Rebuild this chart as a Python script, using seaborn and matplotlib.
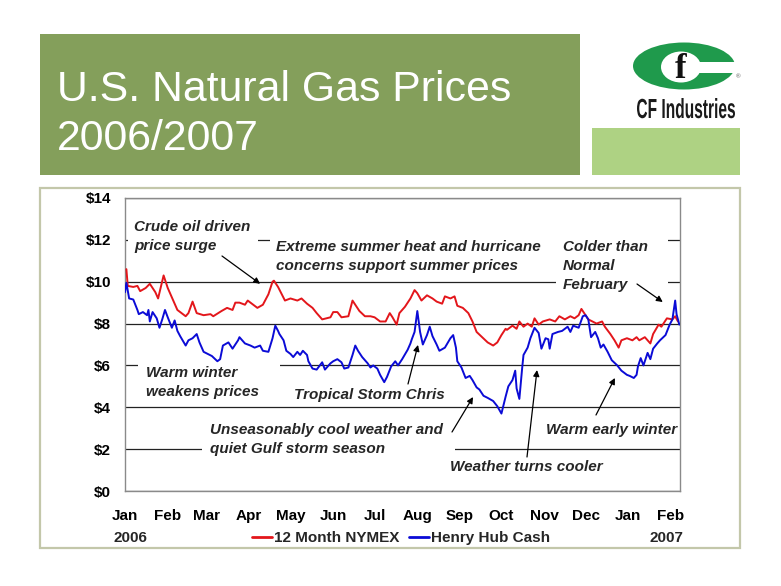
import numpy as np
import pandas as pd
import matplotlib
matplotlib.use("Agg")
import matplotlib.pyplot as plt
from matplotlib.patches import Rectangle, Ellipse, PathPatch
from matplotlib.textpath import TextPath
from matplotlib.font_manager import FontProperties
from matplotlib.transforms import Affine2D
from matplotlib.lines import Line2D
import seaborn as sns

# ---------------- data ----------------
START = "2006-01-01"
series_names = ["12 Month NYMEX", "Henry Hub Cash"]

nymex_day = [1, 2, 6, 9, 11, 15, 18, 22, 24, 28, 31, 35, 38, 44, 46, 49, 52, 57, 62, 64,
             70, 74, 78, 80, 83, 87, 89, 93, 96, 100, 104, 107, 108, 111, 116, 120, 125, 128, 132, 136,
             139, 143, 146, 149, 151, 154, 157, 162, 165, 167, 170, 174, 178, 181, 185, 189, 192, 194, 197, 199,
             203, 207, 210, 212, 215, 219, 223, 226, 230, 232, 236, 239, 241, 245, 249, 252, 255, 259, 263, 267,
             270, 273, 276, 277, 281, 284, 286, 289, 292, 295, 297, 300, 303, 308, 312, 315, 319, 323, 326, 329,
             331, 334, 336, 339, 342, 346, 348, 352, 355, 358, 360, 364, 368, 371, 373, 377, 381, 383, 387, 389,
             393, 397, 399, 401]
nymex_price = [10.6, 9.8, 9.75, 9.8, 9.55, 9.7, 9.9, 9.5, 9.2, 10.3, 9.7, 9.1, 8.65, 8.35, 8.5, 9.05, 8.5, 8.4, 8.45, 8.35,
               8.6, 8.75, 8.65, 9.0, 9.0, 8.9, 9.1, 8.9, 8.75, 8.9, 9.4, 10.0, 10.05, 9.75, 9.1, 9.2, 9.1, 9.2, 8.95, 8.75,
               8.5, 8.2, 8.25, 8.3, 8.55, 8.55, 8.3, 8.35, 9.1, 8.9, 8.6, 8.35, 8.35, 8.3, 8.1, 8.1, 8.5, 8.3, 7.95, 8.5,
               8.8, 9.2, 9.6, 9.45, 9.1, 9.35, 9.2, 9.05, 8.95, 9.3, 9.2, 9.3, 8.85, 8.75, 8.5, 8.1, 7.6, 7.35, 7.1, 6.95,
               7.1, 7.45, 7.75, 7.7, 7.9, 7.75, 8.1, 7.85, 8.0, 7.85, 8.25, 7.95, 8.1, 8.2, 8.1, 8.35, 8.2, 8.35, 8.25, 8.4,
               8.7, 8.4, 8.2, 8.1, 8.0, 8.1, 7.85, 7.5, 7.2, 6.85, 7.2, 7.3, 7.2, 7.35, 7.2, 7.35, 7.05, 7.5, 7.95, 7.85,
               8.25, 8.2, 8.35, 8.1]

henry_day = [0, 1, 3, 6, 9, 10, 13, 16, 17, 18, 20, 23, 25, 27, 29, 31, 34, 36, 38, 40,
             44, 46, 49, 52, 54, 57, 60, 63, 67, 69, 71, 75, 78, 82, 83, 87, 91, 94, 98, 100,
             104, 107, 109, 111, 112, 115, 117, 120, 122, 125, 127, 129, 132, 133, 136, 139, 143, 145, 149, 151,
             154, 157, 159, 162, 165, 167, 169, 172, 176, 178, 180, 183, 185, 188, 190, 193, 196, 198, 201, 205,
             207, 208, 210, 212, 214, 216, 219, 221, 223, 226, 228, 232, 236, 238, 240, 241, 244, 247, 250, 252,
             255, 257, 260, 263, 267, 270, 273, 276, 278, 281, 283, 284, 286, 288, 289, 292, 294, 297, 300, 302,
             305, 307, 308, 310, 314, 317, 321, 323, 325, 329, 332, 334, 336, 338, 341, 343, 345, 347, 350, 353,
             357, 360, 364, 366, 369, 371, 372, 374, 376, 379, 381, 383, 386, 388, 392, 395, 397, 399, 400, 402]
henry_price = [9.5, 9.95, 9.2, 9.15, 8.65, 8.45, 8.55, 8.4, 8.65, 8.1, 8.55, 8.25, 7.8, 8.2, 8.65, 8.3, 7.8, 8.15, 7.65, 7.4,
               6.95, 7.2, 7.3, 7.5, 7.1, 6.65, 6.55, 6.45, 6.2, 6.3, 6.95, 7.1, 6.8, 7.2, 7.35, 7.05, 6.95, 6.85, 6.95, 6.7,
               6.65, 7.3, 7.9, 7.65, 7.5, 7.2, 6.7, 6.55, 6.4, 6.65, 6.5, 6.7, 6.5, 6.2, 5.85, 5.8, 6.15, 5.8, 6.1, 6.2,
               6.3, 6.15, 5.85, 5.9, 6.5, 6.95, 6.7, 6.4, 6.1, 5.9, 6.0, 5.85, 5.55, 5.2, 5.45, 5.95, 6.2, 6.0, 6.3, 6.75,
               7.05, 7.25, 7.6, 8.6, 7.6, 7.0, 7.45, 7.85, 7.4, 7.0, 6.7, 6.85, 7.3, 7.45, 6.85, 6.2, 5.9, 5.4, 5.5, 5.3,
               4.95, 4.85, 4.55, 4.45, 4.3, 4.05, 3.7, 4.5, 5.0, 5.3, 5.75, 4.9, 4.4, 5.85, 6.5, 6.85, 7.3, 7.8, 7.55, 6.8,
               7.3, 7.25, 6.8, 7.5, 7.6, 7.65, 7.85, 7.6, 7.9, 7.8, 8.35, 8.4, 8.2, 7.35, 7.6, 7.3, 6.85, 7.0, 6.65, 6.25,
               6.0, 5.75, 5.55, 5.5, 5.4, 5.55, 5.95, 6.35, 6.0, 6.6, 6.3, 6.8, 7.05, 7.2, 7.45, 7.95, 8.2, 9.1, 8.45, 7.95]

month_labels = ["Jan", "Feb", "Mar", "Apr", "May", "Jun", "Jul", "Aug", "Sep", "Oct", "Nov", "Dec", "Jan", "Feb"]
year_labels = ["2006", "2007"]
y_ticks = [0, 2, 4, 6, 8, 10, 12, 14]
y_tick_labels = ["$0", "$2", "$4", "$6", "$8", "$10", "$12", "$14"]

annotations = [
    "Crude oil driven\nprice surge",
    "Extreme summer heat and hurricane\nconcerns support summer prices",
    "Colder than\nNormal\nFebruary",
    "Warm winter\nweakens prices",
    "Tropical Storm Chris",
    "Unseasonably cool weather and\nquiet Gulf storm season",
    "Warm early winter",
    "Weather turns cooler",
]

# ---------------- styling ----------------
RED = "#e3161b"
BLUE = "#0b0bd6"
TITLE_GREEN = "#849f5b"
LIGHT_GREEN = "#aed283"
LOGO_GREEN = "#1f9a4c"

sns.set_theme(style="white")
plt.rcParams["font.family"] = ["Liberation Sans", "DejaVu Sans"]

W, H = 781, 586
fig = plt.figure(figsize=(W / 100, H / 100), dpi=100)
fig.patch.set_facecolor("white")


def fx(px):
    return px / W


def fy(py):
    return 1 - py / H


# ---------------- header ----------------
fig.add_artist(Rectangle((fx(40), fy(175)), fx(540), 141 / H, transform=fig.transFigure,
                         fc=TITLE_GREEN, ec="none"))
fig.add_artist(Rectangle((fx(592), fy(175)), fx(148), 47 / H, transform=fig.transFigure,
                         fc=LIGHT_GREEN, ec="none"))
fig.text(fx(57), fy(101), "U.S. Natural Gas Prices", color="white", fontsize=30.8, va="baseline", ha="left")
fig.text(fx(57), fy(150), "2006/2007", color="white", fontsize=30.8, va="baseline", ha="left")

# logo
fig.add_artist(Ellipse((fx(684), fy(66)), fx(102), 47 / H, transform=fig.transFigure, fc=LOGO_GREEN, ec="none"))
fig.add_artist(Ellipse((fx(681), fy(67)), fx(40), 31 / H, transform=fig.transFigure, fc="white", ec="none"))
fig.add_artist(Rectangle((fx(694), fy(73)), fx(44), 11 / H, transform=fig.transFigure, fc="white", ec="none"))
fig.text(fx(681), fy(69), "f", color="#111111", fontsize=25, fontweight="bold",
         family=["Liberation Serif", "DejaVu Serif"], ha="center", va="center")
fig.text(fx(738), fy(77), "®", color="#555555", fontsize=4.5, ha="center", va="center")

fp = FontProperties(family="Liberation Sans", weight="bold")
tp = TextPath((0, 0), "CF Industries", size=1, prop=fp)
bb = tp.get_extents()
sx = fx(98) / bb.width
sy = (20 / H) / bb.y1
tr = Affine2D().translate(-bb.x0, 0).scale(sx, sy).translate(fx(637), fy(118)) + fig.transFigure
fig.add_artist(PathPatch(tp, transform=tr, fc="#1a1a1a", ec="none"))

# chart frame
fig.add_artist(Rectangle((fx(40), fy(548)), fx(700), 360 / H, transform=fig.transFigure,
                         fill=False, ec="#c3c7aa", lw=1.6))

# ---------------- chart ----------------
start = pd.Timestamp(START)
df = pd.concat([
    pd.DataFrame({"date": start + pd.to_timedelta(nymex_day, unit="D"),
                  "price": nymex_price, "series": series_names[0]}),
    pd.DataFrame({"date": start + pd.to_timedelta(henry_day, unit="D"),
                  "price": henry_price, "series": series_names[1]}),
], ignore_index=True)

ax = fig.add_axes([fx(125), fy(491), fx(680 - 125), (491 - 198) / H])
ax.set_facecolor("white")
sns.lineplot(data=df, x="date", y="price", hue="series", estimator=None, sort=True,
             palette={series_names[0]: RED, series_names[1]: BLUE},
             linewidth=1.4, legend=False, ax=ax, zorder=3)

ax.set_xlim(start, start + pd.Timedelta(days=402.5))
ax.set_ylim(0, 14)
ax.set_yticks(y_ticks)
ax.set_yticklabels(y_tick_labels)
month_pos = pd.date_range(START, periods=len(month_labels), freq="MS")
ax.set_xticks(month_pos)
ax.set_xticklabels(month_labels)
ax.set_xlabel("")
ax.set_ylabel("")

ax.set_axisbelow(True)
ax.yaxis.grid(True, color="#222222", lw=0.9)
ax.xaxis.grid(False)
for sp in ax.spines.values():
    sp.set_visible(True)
    sp.set_color("#8a8a8a")
    sp.set_linewidth(1.0)

ax.tick_params(axis="both", direction="out", length=4, width=1, color="#8a8a8a",
               labelsize=11, labelcolor="black")
ax.tick_params(axis="x", pad=9)
ax.tick_params(axis="y", pad=6)
for lab in ax.get_xticklabels() + ax.get_yticklabels():
    lab.set_fontweight("bold")

# white text boxes that hide the gridlines (x0, y0, x1, y1 in px)
masks = [(128, 214, 258, 256), (270, 234, 556, 274), (556, 234, 668, 294), (138, 360, 280, 400),
         (288, 386, 450, 404), (202, 420, 455, 460), (540, 420, 678, 440), (445, 457, 610, 477)]
for x0, y0, x1, y1 in masks:
    ax.add_artist(Rectangle((fx(x0), fy(y1)), fx(x1 - x0), (y1 - y0) / H, transform=fig.transFigure,
                            fc="white", ec="none", zorder=1.5, clip_on=False))

# annotation texts (left px, top px)
text_pos = [(134, 220), (276, 240), (563, 240), (146, 366), (294, 388), (210, 423), (546, 423), (450, 460)]
for s, (px, py) in zip(annotations, text_pos):
    ax.text(fx(px), fy(py), s, transform=fig.transFigure, ha="left", va="top",
            fontsize=11, fontweight="bold", fontstyle="italic", linespacing=1.45, zorder=2)

# arrows: tail in figure pixels, head in data coordinates (day, price)
arrows = [((222, 256), (98, 9.9)), ((637, 284), (390, 9.03)), ((408, 384), (212.5, 6.98)),
          ((452, 432), (252.4, 4.49)), ((596, 415), (355.3, 5.4)), ((527, 457), (298.8, 5.78))]
for (tx, ty), (dday, dp) in arrows:
    ax.annotate("", xy=(start + pd.Timedelta(days=dday), dp), xycoords="data",
                xytext=(fx(tx), fy(ty)), textcoords="figure fraction",
                arrowprops=dict(arrowstyle="-|>", color="black", lw=0.9, mutation_scale=9,
                                shrinkA=0, shrinkB=0), zorder=4)

# legend and year labels
handles = [Line2D([], [], color=RED, lw=2), Line2D([], [], color=BLUE, lw=2)]
fig.legend(handles, series_names, loc="center", bbox_to_anchor=(fx(401), fy(538)), ncol=2,
           frameon=False, handlelength=1.3, handletextpad=0.15, columnspacing=0.6,
           prop=dict(weight="bold", size=11))
fig.text(fx(130), fy(538), year_labels[0], fontsize=11, fontweight="bold", ha="center", va="center")
fig.text(fx(666), fy(538), year_labels[1], fontsize=11, fontweight="bold", ha="center", va="center")

fig.savefig("out.png", dpi=100, facecolor="white")
